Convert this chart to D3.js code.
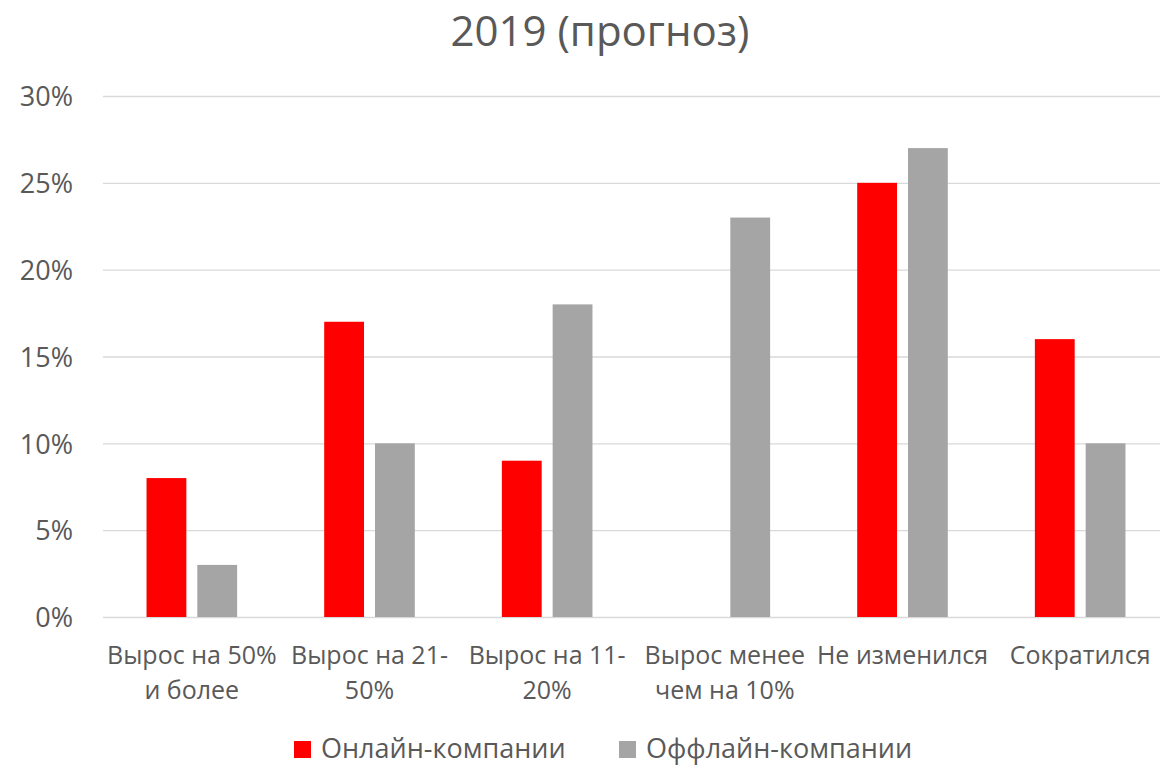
<!DOCTYPE html>
<html><head><meta charset="utf-8">
<script src="https://cdn.jsdelivr.net/npm/d3@7/dist/d3.min.js"></script>
<style>body{margin:0;background:#fff}text{font-family:"Open Sans",sans-serif;fill:#595959}</style>
</head><body><svg id="c" width="1163" height="766"></svg>
<script>
const categories = [["Вырос на 50%","и более"],["Вырос на 21-","50%"],["Вырос на 11-","20%"],["Вырос менее","чем на 10%"],["Не изменился"],["Сократился"]];
const seriesNames = ["Онлайн-компании","Оффлайн-компании"];
const online = [8,17,9,0,25,16];
const offline = [3,10,18,23,27,10];
const yTicks = [0,5,10,15,20,25,30];
const colors = ["#ff0000","#a5a5a5"];

const svg = d3.select("#c");
const L=103,R=1169,G=1160,T=96,B=617;
const keys = categories.map((c,i)=>i);
const x0 = d3.scaleBand().domain(keys).range([L,R]).paddingInner(0.49).paddingOuter(0.245);
const x1 = d3.scaleBand().domain([0,1]).range([0,x0.bandwidth()]).paddingInner(0.216);
const y = d3.scaleLinear().domain([0,30]).range([B,T]);

svg.append("text").attr("x",600).attr("y",46).attr("text-anchor","middle").style("font-size","42px").text("2019 (прогноз)");

const yAxis = svg.append("g").attr("transform",`translate(${L},0)`)
 .call(d3.axisLeft(y).tickValues(yTicks).tickSize(-(G-L)).tickFormat(d=>d+"%"));
yAxis.select(".domain").remove();
yAxis.selectAll("line").attr("stroke","#d9d9d9").attr("stroke-width",1.4);
yAxis.selectAll("text").attr("x",-30).attr("dy","0.36em").style("font-size","27px").attr("fill","#595959");

const data = [online, offline];
data.forEach((vals,s)=>{
  svg.append("g").selectAll("rect").data(vals).join("rect")
   .attr("x",(d,i)=>x0(i)+x1(s)).attr("width",x1.bandwidth())
   .attr("y",d=>y(d)).attr("height",d=>B-y(d)).attr("fill",colors[s]);
});

const xl = svg.append("g");
categories.forEach((lines,i)=>{
  const t = xl.append("text").attr("text-anchor","middle").style("font-size","25px");
  lines.forEach((ln,j)=>t.append("tspan").attr("x",x0(i)+x0.bandwidth()/2).attr("y",664+j*35).text(ln));
});

const leg = svg.append("g");
const legX = [294,619];
seriesNames.forEach((n,s)=>{
  leg.append("rect").attr("x",legX[s]).attr("y",741).attr("width",17).attr("height",17).attr("fill",colors[s]);
  leg.append("text").attr("x",legX[s]+27).attr("y",758).style("font-size","27px").text(n);
});
</script></body></html>
